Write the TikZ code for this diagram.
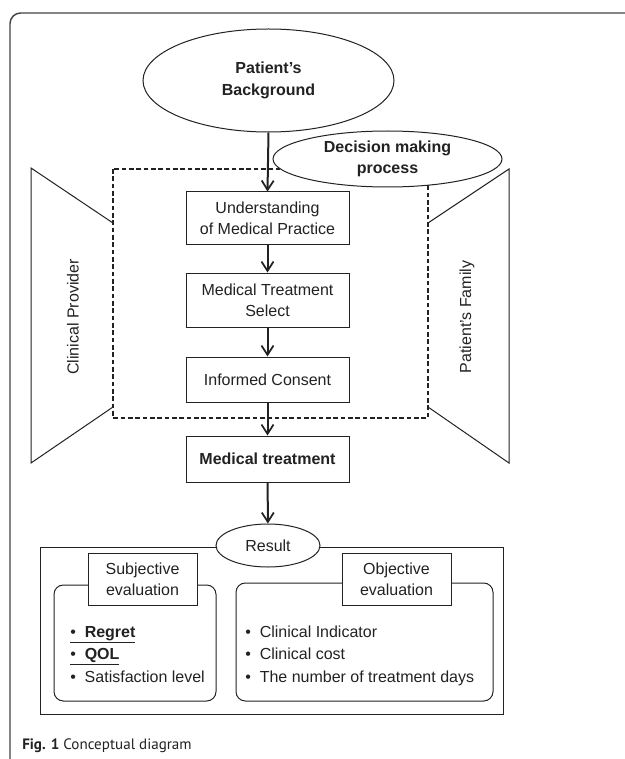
\documentclass[tikz,border=0pt]{standalone}
\usepackage{fontspec}
\setmainfont{Liberation Sans}
\newfontfamily\capfont{PT Sans}
\usetikzlibrary{shapes.geometric,arrows.meta}
\definecolor{ink}{HTML}{222222}
\tikzset{
  txt/.style={font=\fontsize{12}{16}\selectfont, text=ink},
  stepbox/.style={draw=ink, line width=0.75pt, fill=white, txt, align=center, inner sep=0pt},
  oval/.style={ellipse, draw=ink, line width=0.75pt, fill=white, txt, align=center, inner sep=0pt},
  flow/.style={draw=ink, line width=1.5pt, -{Straight Barb[length=7pt,width=9pt,line width=1.3pt]}},
  thin/.style={draw=ink, line width=0.75pt},
}
\begin{document}
\begin{tikzpicture}[x=0.75pt,y=-0.75pt]
\useasboundingbox (0,0) rectangle (624,759);
% outer frame
\draw[draw=ink!85, line width=1.1pt, rounded corners=8pt] (10,775) -- (10,13) -- (650,13);
% trapezoids
\draw[thin] (113,223) -- (31,168) -- (31,463) -- (113,407);
\draw[thin] (428,223) -- (509,169) -- (509,463) -- (428,407);
\node[txt, rotate=90] (cp) at (73,317) {Clinical Provider};
\node[txt, rotate=90] (pf) at (467,317) {Patient's Family};
% dashed area
\draw[draw=ink, line width=0.8pt, dash pattern=on 3.5pt off 2pt] (113,169) rectangle (428,418);
% ellipses
\node[oval, minimum width=188.25pt, minimum height=77.25pt, font=\fontsize{12}{16}\selectfont\bfseries] (pb) at (268.5,80.5) {Patient's\\Background};
\node[oval, minimum width=171.75pt, minimum height=42pt, font=\fontsize{12}{16}\selectfont\bfseries] (dm) at (387.5,159) {Decision making\\process};
% steps
\node[stepbox, minimum width=122.25pt, minimum height=39pt] (u) at (267.5,218) {Understanding\\of Medical Practice};
\node[stepbox, minimum width=122.25pt, minimum height=40.5pt] (s) at (267.5,300) {Medical Treatment\\Select};
\node[stepbox, minimum width=122.25pt, minimum height=33.75pt] (ic) at (267.5,379.5) {Informed Consent};
\node[stepbox, minimum width=122.25pt, minimum height=34.5pt, font=\fontsize{12}{16}\selectfont\bfseries] (mt) at (267.5,459) {Medical treatment};
% result area
\draw[thin] (40,547) rectangle (503,714);
\draw[thin, rounded corners=7pt] (54,585) rectangle (216,701);
\draw[thin, rounded corners=7pt] (236,583) rectangle (493,701);
\node[oval, minimum width=78pt, minimum height=32.25pt] (res) at (268,545.5) {Result};
\node[stepbox, minimum width=81.75pt, minimum height=39pt] (sub) at (142.5,579) {Subjective\\evaluation};
\node[stepbox, minimum width=81.75pt, minimum height=39pt] (obj) at (396.5,579) {Objective\\evaluation};
% lists
\node[txt, anchor=base west, inner sep=0pt] (l1) at (70,637) {\underline{•\ \ \textbf{Regret}}};
\node[txt, anchor=base west, inner sep=0pt] (l2) at (70,659.5) {\underline{•\ \ \textbf{QOL}}};
\node[txt, anchor=base west, inner sep=0pt] (l3) at (70,682) {•\ \ Satisfaction level};
\node[txt, anchor=base west, inner sep=0pt] (r1) at (245,637) {•\ \ Clinical Indicator};
\node[txt, anchor=base west, inner sep=0pt] (r2) at (245,659.5) {•\ \ Clinical cost};
\node[txt, anchor=base west, inner sep=0pt] (r3) at (245,682) {•\ \ The number of treatment days};
% arrows
\draw[flow] (pb.south) -- (u.north);
\draw[flow] (u) -- (s);
\draw[flow] (s) -- (ic);
\draw[flow] (ic) -- (mt);
\draw[flow] (mt) -- (res);
% caption
\node[anchor=base west, inner sep=0pt, font=\capfont\fontsize{11.3}{14}\selectfont, text=ink] (cap) at (22,749) {\textbf{Fig. 1} Conceptual diagram};
\end{tikzpicture}
\end{document}
